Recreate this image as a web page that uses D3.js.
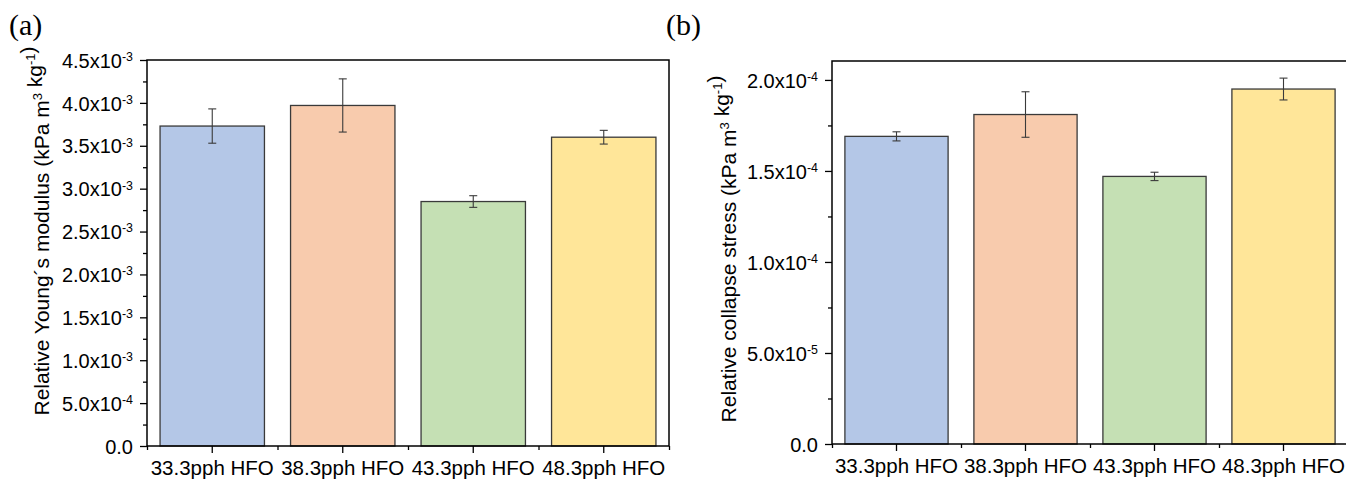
<!DOCTYPE html>
<html>
<head>
<meta charset="utf-8">
<script src="https://cdn.jsdelivr.net/npm/d3@7"></script>
<style>
  html, body { margin: 0; padding: 0; background: #fff; }
  svg { display: block; }
</style>
</head>
<body>
<svg id="chart" width="1346" height="479"></svg>
<script>
// Foam samples (HFO blowing agent content)
const categories = ["33.3pph HFO", "38.3pph HFO", "43.3pph HFO", "48.3pph HFO"];
const barColors = ["#b4c7e7", "#f8cbad", "#c5e0b4", "#ffe699"];

// (a) relative Young's modulus, kPa m^3 kg^-1
const youngsModulus    = [3.73e-3, 3.97e-3, 2.85e-3, 3.60e-3];
const youngsModulusErr = [0.20e-3, 0.31e-3, 0.068e-3, 0.08e-3];
const youngsTickValues = [0, 5e-4, 1.0e-3, 1.5e-3, 2.0e-3, 2.5e-3, 3.0e-3, 3.5e-3, 4.0e-3, 4.5e-3];
const youngsTickLabels = ["0.0", "5.0x10^-4", "1.0x10^-3", "1.5x10^-3", "2.0x10^-3",
                          "2.5x10^-3", "3.0x10^-3", "3.5x10^-3", "4.0x10^-3", "4.5x10^-3"];

// (b) relative collapse stress, kPa m^3 kg^-1
const collapseStress    = [1.69e-4, 1.81e-4, 1.47e-4, 1.95e-4];
const collapseStressErr = [0.025e-4, 0.125e-4, 0.023e-4, 0.06e-4];
const collapseTickValues = [0, 5e-5, 1.0e-4, 1.5e-4, 2.0e-4];
const collapseTickLabels = ["0.0", "5.0x10^-5", "1.0x10^-4", "1.5x10^-4", "2.0x10^-4"];

const SANS = "'Liberation Sans', Arial, sans-serif";
const SERIF = "'Liberation Serif', 'Times New Roman', serif";

const svg = d3.select("#chart");

// write "a^b" style text as base + superscript tspans
function writeSup(sel, str) {
  const parts = str.split("^");
  sel.text(null);
  sel.append("tspan").text(parts[0]);
  if (parts.length > 1) {
    sel.append("tspan").attr("dy", "-0.55em").style("font-size", "0.62em").text(parts[1]);
  }
}

function drawPanel(cfg) {
  const { left, right, top, bottom, yMax, values, errors, tickValues, tickLabels,
          title, titleX, titleY, tag, tagX } = cfg;

  const g = svg.append("g");

  const x = d3.scaleBand().domain(categories).range([left, right]).paddingInner(0).paddingOuter(0);
  const y = d3.scaleLinear().domain([0, yMax]).range([bottom, top]);
  const bw = x.bandwidth() * 0.8;

  // bars
  g.selectAll("rect.bar").data(values).join("rect")
    .attr("class", "bar")
    .attr("x", (d, i) => x(categories[i]) + (x.bandwidth() - bw) / 2)
    .attr("y", d => y(d))
    .attr("width", bw)
    .attr("height", d => y(0) - y(d))
    .attr("fill", (d, i) => barColors[i])
    .attr("stroke", "#3a3a3a")
    .attr("stroke-width", 1.3);

  // error bars
  const cap = 4;
  const eg = g.selectAll("g.err").data(values).join("g").attr("class", "err")
    .attr("stroke", "#3a3a3a").attr("stroke-width", 1.1);
  eg.each(function (d, i) {
    const cx = x(categories[i]) + x.bandwidth() / 2;
    const hi = y(d + errors[i]), lo = y(d - errors[i]);
    const s = d3.select(this);
    s.append("line").attr("x1", cx).attr("x2", cx).attr("y1", hi).attr("y2", lo);
    s.append("line").attr("x1", cx - cap).attr("x2", cx + cap).attr("y1", hi).attr("y2", hi);
    s.append("line").attr("x1", cx - cap).attr("x2", cx + cap).attr("y1", lo).attr("y2", lo);
  });

  // y axis: major ticks with labels, minor ticks halfway
  const yAxis = d3.axisLeft(y).tickValues(tickValues).tickSize(7).tickPadding(7)
    .tickFormat((d, i) => tickLabels[i]);
  const ya = g.append("g").attr("transform", `translate(${left},0)`).call(yAxis);
  ya.select(".domain").remove();
  ya.selectAll(".tick line").attr("stroke", "#000").attr("stroke-width", 1.3);
  ya.selectAll(".tick text")
    .style("font-size", "20px").style("font-family", SANS).attr("fill", "#000")
    .attr("dy", "0.36em")
    .each(function (d, i) { writeSup(d3.select(this), tickLabels[i]); });

  const step = tickValues[1] - tickValues[0];
  const minor = d3.range(step / 2, yMax, step);
  g.append("g").attr("transform", `translate(${left},0)`)
    .call(d3.axisLeft(y).tickValues(minor).tickSize(4).tickFormat(""))
    .call(a => a.select(".domain").remove())
    .selectAll(".tick line").attr("stroke", "#000").attr("stroke-width", 1.3);

  // x axis: ticks at category centers, minor ticks at boundaries
  const xAxis = d3.axisBottom(x).tickSize(7).tickPadding(7);
  const xa = g.append("g").attr("transform", `translate(0,${bottom})`).call(xAxis);
  xa.select(".domain").remove();
  xa.selectAll(".tick line").attr("stroke", "#000").attr("stroke-width", 1.3);
  xa.selectAll(".tick text").style("font-size", "20.5px").style("font-family", SANS)
    .attr("fill", "#000").attr("dy", "0.71em");

  const xb = d3.scaleLinear().domain([0, categories.length]).range([left, right]);
  g.append("g").attr("transform", `translate(0,${bottom})`)
    .call(d3.axisBottom(xb).tickValues(d3.range(0, categories.length + 1)).tickSize(4).tickFormat(""))
    .call(a => a.select(".domain").remove())
    .selectAll(".tick line").attr("stroke", "#000").attr("stroke-width", 1.3);

  // frame
  g.append("rect")
    .attr("x", left).attr("y", top)
    .attr("width", right - left).attr("height", bottom - top)
    .attr("fill", "none").attr("stroke", "#000").attr("stroke-width", 1.5);

  // axis title (rotated, with superscripts)
  const t = g.append("text")
    .attr("transform", `translate(${titleX},${titleY}) rotate(-90)`)
    .attr("text-anchor", "middle")
    .style("font-family", SANS).style("font-size", "21px").attr("fill", "#000");
  title.forEach(p => {
    if (p.sup) {
      t.append("tspan").attr("dy", "-0.55em").style("font-size", "0.62em").text(p.sup);
      t.append("tspan").attr("dy", "0.55em").text("");
    } else {
      t.append("tspan").text(p.t);
    }
  });

  // panel tag
  svg.append("text").attr("x", tagX).attr("y", 35)
    .style("font-family", SERIF).style("font-size", "30px").attr("fill", "#000")
    .text(tag);
}

drawPanel({
  left: 147, right: 669, top: 60, bottom: 446, yMax: 4.5e-3,
  values: youngsModulus, errors: youngsModulusErr,
  tickValues: youngsTickValues, tickLabels: youngsTickLabels,
  title: [{ t: "Relative Young\u00b4s modulus (kPa m" }, { sup: "3" }, { t: " kg" }, { sup: "-1" }, { t: ")" }],
  titleX: 49, titleY: 231, tag: "(a)", tagX: 9
});

drawPanel({
  left: 832, right: 1348, top: 61, bottom: 444, yMax: 2.104e-4,
  values: collapseStress, errors: collapseStressErr,
  tickValues: collapseTickValues, tickLabels: collapseTickLabels,
  title: [{ t: "Relative collapse stress (kPa m" }, { sup: "3" }, { t: " kg" }, { sup: "-1" }, { t: ")" }],
  titleX: 736, titleY: 249, tag: "(b)", tagX: 666
});
</script>
</body>
</html>
